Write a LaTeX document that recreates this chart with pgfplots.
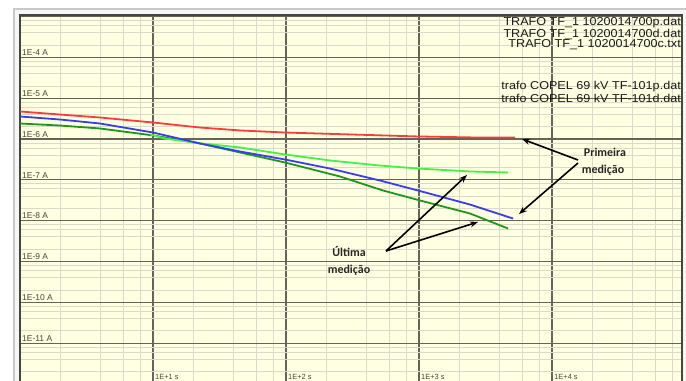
\documentclass[border=0pt]{standalone}
\usepackage{fontspec}
\usepackage{pgfplots}
\pgfplotsset{compat=1.18}
\usetikzlibrary{arrows.meta}
\newfontfamily\arial{Liberation Sans}
\newfontfamily\calibri{Carlito}
\definecolor{bg}{RGB}{255,255,225}
\definecolor{majg}{RGB}{100,100,90}
\definecolor{ming}{RGB}{218,218,202}
\definecolor{cred}{RGB}{250,60,60}
\definecolor{cblue}{RGB}{60,60,235}
\definecolor{cdgreen}{RGB}{30,150,30}
\definecolor{clgreen}{RGB}{70,240,70}
\definecolor{framec}{RGB}{200,200,200}
\definecolor{bandc}{RGB}{246,246,246}
\definecolor{labc}{RGB}{70,70,60}
\begin{document}
\begin{tikzpicture}
\path[use as bounding box, clip] (0bp,0bp) rectangle (686bp,381bp);
\fill[white] (0bp,0bp) rectangle (686bp,381bp);
\draw[framec, line width=2bp, fill=bandc] (14bp,372bp) rectangle (720bp,-20bp);
\begin{axis}[at={(20bp,366bp)}, anchor=north west, scale only axis,
  width=662bp, height=368.9bp,
  xmode=log, ymode=log, xmin=1, xmax=94840, ymin=1e-12, ymax=1.1e-3,
  axis background/.style={fill=bg},
  axis line style={draw=majg!70!black, line width=1.5bp},
  major tick length=0pt, minor tick length=0pt,
  grid=both,
  major grid style={draw=majg, line width=1.2bp},
  minor grid style={draw=ming, line width=1bp},
  xtick={10,100,1000,10000},
  xticklabels={1E+1 s,1E+2 s,1E+3 s,1E+4 s},
  minor xtick={2,4,6,8,20,40,60,80,200,400,600,800,2000,4000,6000,8000,20000,40000,60000,80000},
  ytick={1e-11,1e-10,1e-9,1e-8,1e-7,1e-6,1e-5,1e-4,1e-3},
  yticklabels={1E-11 A,1E-10 A,1E-9 A,1E-8 A,1E-7 A,1E-6 A,1E-5 A,1E-4 A,},
  minor ytick={2e-12,4e-12,6e-12,8e-12,2e-11,4e-11,6e-11,8e-11,2e-10,4e-10,6e-10,8e-10,2e-9,4e-9,6e-9,8e-9,2e-8,4e-8,6e-8,8e-8,2e-7,4e-7,6e-7,8e-7,2e-6,4e-6,6e-6,8e-6,2e-5,4e-5,6e-5,8e-5,2e-4,4e-4,6e-4,8e-4},
  xticklabel style={anchor=south west, inner sep=0pt, xshift=2bp, yshift=4bp, font=\arial\fontsize{7.5}{8}\selectfont, text=labc},
  yticklabel style={anchor=south west, inner sep=0pt, xshift=2bp, yshift=1.5bp, font=\arial\fontsize{8.5}{9}\selectfont, text=labc},
  xticklabel pos=bottom, yticklabel pos=left,
  every axis plot/.append style={no marks, line width=1.8bp},
]
\addplot[cred] coordinates {(1,4.75e-6) (2.0,4.0e-6) (4.0,3.38e-6) (10,2.55e-6) (22.6,1.92e-6) (45.1,1.63e-6) (98,1.45e-6) (303,1.30e-6) (983,1.16e-6) (2877,1.09e-6) (5270,1.09e-6)};
\addplot[cdgreen] coordinates {(1,2.41e-6) (2.0,2.15e-6) (4.0,1.82e-6) (10,1.23e-6) (22.6,7.80e-7) (45.1,4.70e-7) (98.3,2.67e-7) (255,1.21e-7) (536,5.50e-8) (1018,3.13e-8) (2417,1.50e-8) (4670,6.44e-9)};
\addplot[clgreen] coordinates {(9.49,1.30e-6) (12.3,1.03e-6) (22.6,7.90e-7) (45.1,6.23e-7) (98.3,4.20e-7) (214,2.99e-7) (509,2.25e-7) (982,1.90e-7) (2417,1.61e-7) (4670,1.52e-7)};
\addplot[cblue] coordinates {(1,3.58e-6) (2.0,3.02e-6) (4.0,2.41e-6) (10,1.45e-6) (22.6,7.80e-7) (45.1,4.97e-7) (98.3,3.16e-7) (214,1.90e-7) (509,9.66e-8) (982,5.50e-8) (2417,2.49e-8) (5093,1.13e-8)};
\end{axis}
% legend texts
\tikzset{legt/.style={anchor=east, inner sep=0pt, xscale=1.1, font=\arial\fontsize{11.5}{12}\selectfont, text=black!90}}
\node[legt] at (681bp,358bp) {TRAFO TF\_1 1020014700p.dat};
\node[legt] at (681bp,347bp) {TRAFO TF\_1 1020014700d.dat};
\node[legt] at (681bp,336bp) {TRAFO TF\_1 1020014700c.txt};
\node[legt] at (681bp,294bp) {trafo COPEL 69 kV TF-101p.dat};
\node[legt] at (681bp,283bp) {trafo COPEL 69 kV TF-101d.dat};
% annotations
\tikzset{annt/.style={font=\calibri\bfseries\fontsize{12}{13}\selectfont, text=black!85}}
\node[annt] at (605bp,229bp) {Primeira};
\node[annt] at (603bp,211bp) {medição};
\node[annt] at (349bp,129bp) {Última};
\node[annt] at (349bp,111bp) {medição};
\tikzset{arr/.style={line width=1.6bp, -{Stealth[length=8bp,width=6bp]}}}
\draw[arr] (578bp,221bp) -- (522bp,242bp);
\draw[arr] (578bp,218bp) -- (519bp,167bp);
\draw[arr] (386bp,130bp) -- (467bp,206bp);
\draw[arr] (386bp,130bp) -- (478bp,159bp);
\end{tikzpicture}
\end{document}
